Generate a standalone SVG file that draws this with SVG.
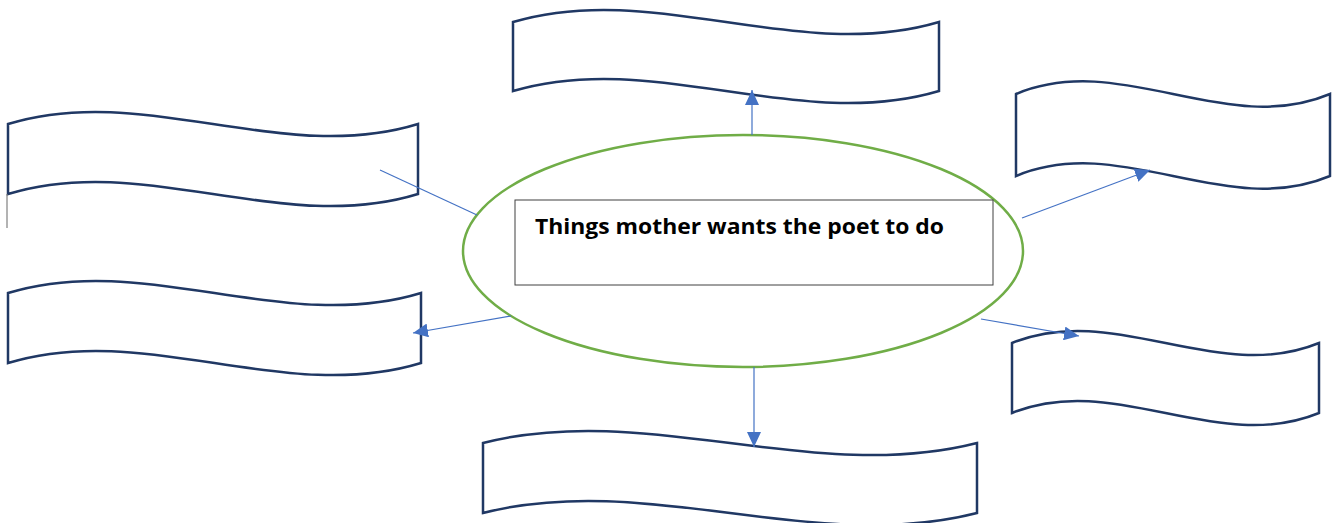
<svg xmlns="http://www.w3.org/2000/svg" width="1336" height="523" viewBox="0 0 1336 523">
<style>
.banner{fill:#ffffff;stroke:#203864;stroke-width:2.5;stroke-linejoin:miter}
.conn{stroke:#4472C4;stroke-width:1.2;fill:none}
.title{font-family:"Open Sans","Liberation Sans",Arial,sans-serif;font-weight:bold;font-size:22px;fill:#000}
</style>
<defs>
<marker id="arr" markerUnits="userSpaceOnUse" markerWidth="16" markerHeight="14" refX="15" refY="7" orient="auto">
<path d="M0,0 L15,7 L0,14 Z" fill="#4472C4"/>
</marker>
</defs>
<rect x="0" y="0" width="1336" height="523" fill="#ffffff"/>
<g id="banner-top-left">
<path class="banner" d="M8,124 C144.7,82 281.3,166 418,124 L418,194 C281.3,236 144.7,152 8,194 Z"/>
</g>
<g id="banner-top">
<path class="banner" d="M513,22 C655,-20 797,64 939,22 L939,91 C797,133 655,49 513,91 Z"/>
</g>
<g id="banner-top-right">
<path class="banner" d="M1016,94 C1120.7,50 1225.3,138 1330,94 L1330,176 C1225.3,220 1120.7,132 1016,176 Z"/>
</g>
<g id="banner-mid-left">
<path class="banner" d="M8,293 C145.7,251 283.3,335 421,293 L421,363 C283.3,405 145.7,321 8,363 Z"/>
</g>
<g id="banner-mid-right">
<path class="banner" d="M1012,343 C1114.3,301 1216.7,385 1319,343 L1319,413 C1216.7,455 1114.3,371 1012,413 Z"/>
</g>
<g id="banner-bottom">
<path class="banner" d="M483,443 C647.7,401 812.3,485 977,443 L977,513 C812.3,555 647.7,471 483,513 Z"/>
</g>
<g id="center">
<ellipse cx="743" cy="251" rx="280" ry="116" fill="#ffffff" stroke="#70AD47" stroke-width="2.5"/>
<rect x="515" y="200" width="478" height="85" fill="#ffffff" stroke="#404040" stroke-width="1"/>
<text class="title" x="535" y="234" textLength="409" lengthAdjust="spacingAndGlyphs">Things mother wants the poet to do</text>
</g>
<g id="connectors">
<line class="conn" x1="380" y1="170" x2="477" y2="215"/>
<line x1="7" y1="194" x2="7" y2="228" stroke="#808080" stroke-width="1.2"/>
<line class="conn" x1="752" y1="135" x2="752" y2="90" marker-end="url(#arr)"/>
<line class="conn" x1="1022" y1="218" x2="1150" y2="170" marker-end="url(#arr)"/>
<line class="conn" x1="511" y1="316" x2="413" y2="333" marker-end="url(#arr)"/>
<line class="conn" x1="981" y1="319" x2="1079" y2="336" marker-end="url(#arr)"/>
<line class="conn" x1="754" y1="367" x2="754" y2="447" marker-end="url(#arr)"/>
</g>
</svg>
